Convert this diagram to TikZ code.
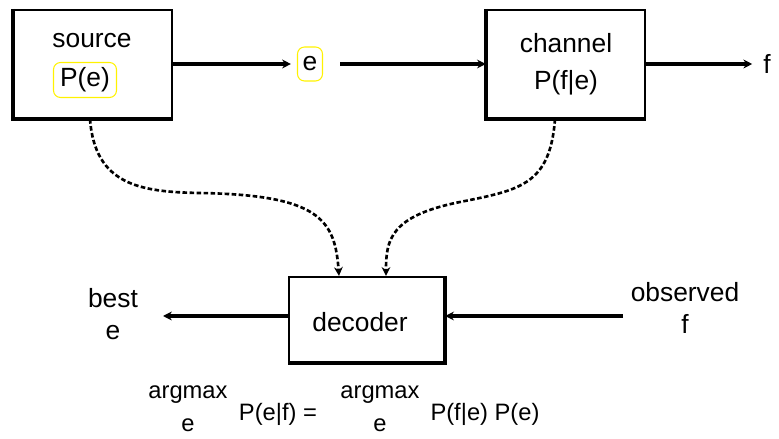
\documentclass[tikz,border=0pt]{standalone}
\usepackage{fontspec}
\setmainfont{Liberation Sans}
\usetikzlibrary{calc, arrows.meta}

\begin{document}
\begin{tikzpicture}[x=0.02cm, y=-0.02cm,
		box/.style={draw, line width=1.3pt, inner sep=0pt},
		lbl/.style={font=\fontsize{15}{18}\selectfont, inner sep=1pt, align=center},
		eq/.style={font=\fontsize{13.5}{18.7}\selectfont, inner sep=1pt, align=center},
		hl/.style={draw=yellow, line width=0.6pt, rounded corners=4pt},
		flow/.style={line width=2.2pt, -{Stealth[length=5pt, width=5pt]}},
		hint/.style={line width=1.5pt, dash pattern=on 2.6pt off 1.4pt, -{Stealth[length=5pt, width=5pt]}}]
		\useasboundingbox (0,0) rectangle (779,439);

		% the three boxes
		\node[box, minimum width=3.16cm, minimum height=2.16cm] (source) at (93,64) {};
		\node[box, minimum width=3.16cm, minimum height=2.16cm] (channel) at (566,64) {};
		\node[box, minimum width=3.1cm, minimum height=1.7cm] (decoder) at (366.5,319.5) {};

		\draw[line width=2.1pt] (source.north west) -- (source.south west) -- (source.south east);
		\draw[line width=2.1pt] (channel.north west) -- (channel.south west) -- (channel.south east);
		\draw[line width=2.1pt] (decoder.north east) -- (decoder.south east) -- (decoder.south west);

		% texts
		\node[lbl] (srcname) at (92,41) {source};
		\node[lbl, hl, minimum width=1.26cm, minimum height=0.7cm] (prior) at (85,80) {P(e)};
		\node[lbl, hl, minimum width=0.5cm, minimum height=0.68cm] (word) at (310,64) {e};
		\node[lbl] (chname) at (566,43) {channel};
		\node[lbl] (model) at (566,83) {P(f|e)};
		\node[lbl] (out) at (767,64) {f};
		\node[lbl] (decname) at (360,322) {decoder};
		\node[lbl] (best) at (113,314) {best\\e};
		\node[lbl] (observed) at (685,308) {observed\\f};

		\coordinate (bestend) at (163,316);
		\coordinate (obsstart) at (623,316);

		% solid arrows
		\draw[flow, shorten >=0.12cm] (source.east) -- (word.west);
		\draw[flow, shorten <=0.34cm] (word.east) -- (channel.west);
		\draw[flow, shorten >=0.18cm] (channel.east) -- (out.west);
		\draw[flow] (decoder.west |- bestend) -- (bestend);
		\draw[flow] (obsstart) -- (decoder.east |- obsstart);

		% dashed arrows into the decoder
		\draw[hint] ([xshift=-0.06cm]source.south) .. controls (95,185) and (140,192) .. (200,193)
			.. controls (320,195) and (335,220) .. ([xshift=-0.55cm]decoder.north);
		\draw[hint] ([xshift=-0.22cm]channel.south) .. controls (550,185) and (520,190) .. (460,202)
			.. controls (390,216) and (386,240) .. ([xshift=0.39cm]decoder.north);

		% decision rule
		\node[eq] (argmaxa) at (188,409) {argmax\\e};
		\node[eq] (posterior) at (278,414) {P(e|f) =};
		\node[eq] (argmaxb) at (380,409) {argmax\\e};
		\node[eq] (product) at (485,414) {P(f|e) P(e)};
	\end{tikzpicture}
\end{document}
